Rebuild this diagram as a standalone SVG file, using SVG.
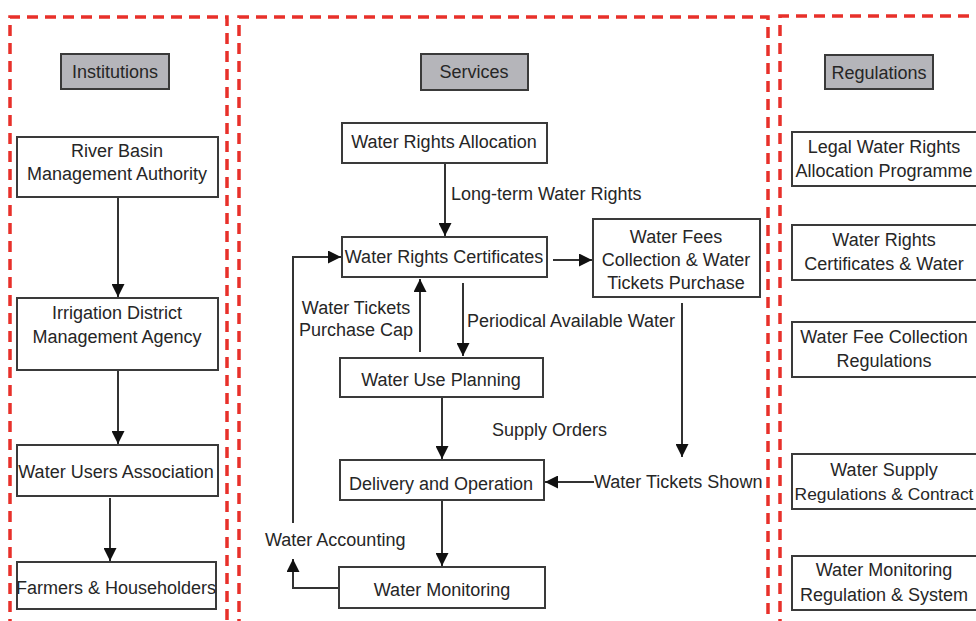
<svg xmlns="http://www.w3.org/2000/svg" width="976" height="621" viewBox="0 0 976 621">
<style>
.frame{fill:none;stroke:#e8302a;stroke-width:3.5;stroke-dasharray:11 7}
.box{fill:#fff;stroke:#3a3a3a;stroke-width:2}
.hdr{fill:#b5b5ba;stroke:#3a3a3a;stroke-width:2}
text{font-family:"Liberation Sans",Arial,sans-serif;font-size:18px;fill:#262626}
.c{text-anchor:middle}
.ln{fill:none;stroke:#333;stroke-width:2}
</style>
<defs>
<marker id="ah" viewBox="0 0 10 10" refX="10" refY="5" markerWidth="6.5" markerHeight="6.5" markerUnits="strokeWidth" orient="auto">
<path d="M0,0 L10,5 L0,10 z" fill="#111"/>
</marker>
</defs>
<rect width="976" height="621" fill="#fff"/>
<g id="frames">
<path class="frame" d="M10,630 V17 H227 V630"/>
<path class="frame" d="M239,630 V17 H768 V630"/>
<path class="frame" d="M780,630 V16 H990"/>
</g>
<g id="connectors">
<line class="ln" x1="118" y1="197" x2="118" y2="297" marker-end="url(#ah)"/>
<line class="ln" x1="118" y1="370" x2="118" y2="444" marker-end="url(#ah)"/>
<line class="ln" x1="110" y1="498" x2="110" y2="561" marker-end="url(#ah)"/>
<line class="ln" x1="445" y1="163" x2="445" y2="236" marker-end="url(#ah)"/>
<polyline class="ln" points="293,523 293,257 341,257" marker-end="url(#ah)"/>
<line class="ln" x1="420" y1="352" x2="420" y2="279" marker-end="url(#ah)"/>
<line class="ln" x1="463" y1="283" x2="463" y2="356" marker-end="url(#ah)"/>
<line class="ln" x1="442" y1="397" x2="442" y2="459" marker-end="url(#ah)"/>
<line class="ln" x1="442" y1="500" x2="442" y2="566" marker-end="url(#ah)"/>
<polyline class="ln" points="338,588 293,588 293,559" marker-end="url(#ah)"/>
<line class="ln" x1="553" y1="260" x2="592" y2="260" marker-end="url(#ah)"/>
<line class="ln" x1="682" y1="303" x2="682" y2="457" marker-end="url(#ah)"/>
<line class="ln" x1="594" y1="482" x2="545" y2="482" marker-end="url(#ah)"/>
<text x="451" y="200">Long-term Water Rights</text>
<text class="c" x="356" y="314">Water Tickets</text>
<text class="c" x="356" y="336">Purchase Cap</text>
<text x="467" y="327">Periodical Available Water</text>
<text x="492" y="436">Supply Orders</text>
<text x="594" y="488">Water Tickets Shown</text>
<text x="265" y="546">Water Accounting</text>
</g>
<g id="hdr-institutions"><rect class="hdr" x="61" y="54" width="108" height="35"/><text class="c" x="115" y="78">Institutions</text></g>
<g id="river-basin"><rect class="box" x="17" y="137" width="201" height="60"/><text class="c" x="117" y="157">River Basin</text><text class="c" x="117" y="180">Management Authority</text></g>
<g id="irrigation"><rect class="box" x="17" y="298" width="201" height="72"/><text class="c" x="117" y="319">Irrigation District</text><text class="c" x="117" y="343">Management Agency</text></g>
<g id="wua"><rect class="box" x="17" y="445" width="201" height="51"/><text class="c" x="116" y="478">Water Users Association</text></g>
<g id="farmers"><rect class="box" x="17" y="562" width="199" height="47"/><text class="c" x="116" y="594">Farmers &amp; Householders</text></g>
<g id="hdr-services"><rect class="hdr" x="421" y="54" width="107" height="36"/><text class="c" x="474" y="78">Services</text></g>
<g id="allocation"><rect class="box" x="342" y="123" width="205" height="40"/><text class="c" x="444" y="148">Water Rights Allocation</text></g>
<g id="certificates"><rect class="box" x="342" y="237" width="205" height="40"/><text class="c" x="444" y="263">Water Rights Certificates</text></g>
<g id="fees"><rect class="box" x="593" y="219" width="167" height="78"/><text class="c" x="676" y="243">Water Fees</text><text class="c" x="676" y="266">Collection &amp; Water</text><text class="c" x="676" y="289">Tickets Purchase</text></g>
<g id="planning"><rect class="box" x="340" y="358" width="203" height="39"/><text class="c" x="441" y="386">Water Use Planning</text></g>
<g id="delivery"><rect class="box" x="340" y="460" width="204" height="40"/><text class="c" x="441" y="490">Delivery and Operation</text></g>
<g id="monitoring"><rect class="box" x="339" y="567" width="206" height="41"/><text class="c" x="442" y="596">Water Monitoring</text></g>
<g id="hdr-regulations"><rect class="hdr" x="825" y="55" width="108" height="34"/><text class="c" x="879" y="79">Regulations</text></g>
<g id="reg-legal"><rect class="box" x="792" y="132" width="192" height="54"/><text class="c" x="884" y="153">Legal Water Rights</text><text class="c" x="884" y="177">Allocation Programme</text></g>
<g id="reg-certificates"><rect class="box" x="792" y="225" width="192" height="55"/><text class="c" x="884" y="246">Water Rights</text><text class="c" x="884" y="270">Certificates &amp; Water</text></g>
<g id="reg-fee"><rect class="box" x="792" y="322" width="192" height="55"/><text class="c" x="884" y="343">Water Fee Collection</text><text class="c" x="884" y="367">Regulations</text></g>
<g id="reg-supply"><rect class="box" x="792" y="454" width="192" height="55"/><text class="c" x="884" y="476">Water Supply</text><text class="c" x="884" y="500" style="font-size:17.4px">Regulations &amp; Contract</text></g>
<g id="reg-monitoring"><rect class="box" x="792" y="556" width="192" height="54"/><text class="c" x="884" y="576">Water Monitoring</text><text class="c" x="884" y="601">Regulation &amp; System</text></g>
</svg>
